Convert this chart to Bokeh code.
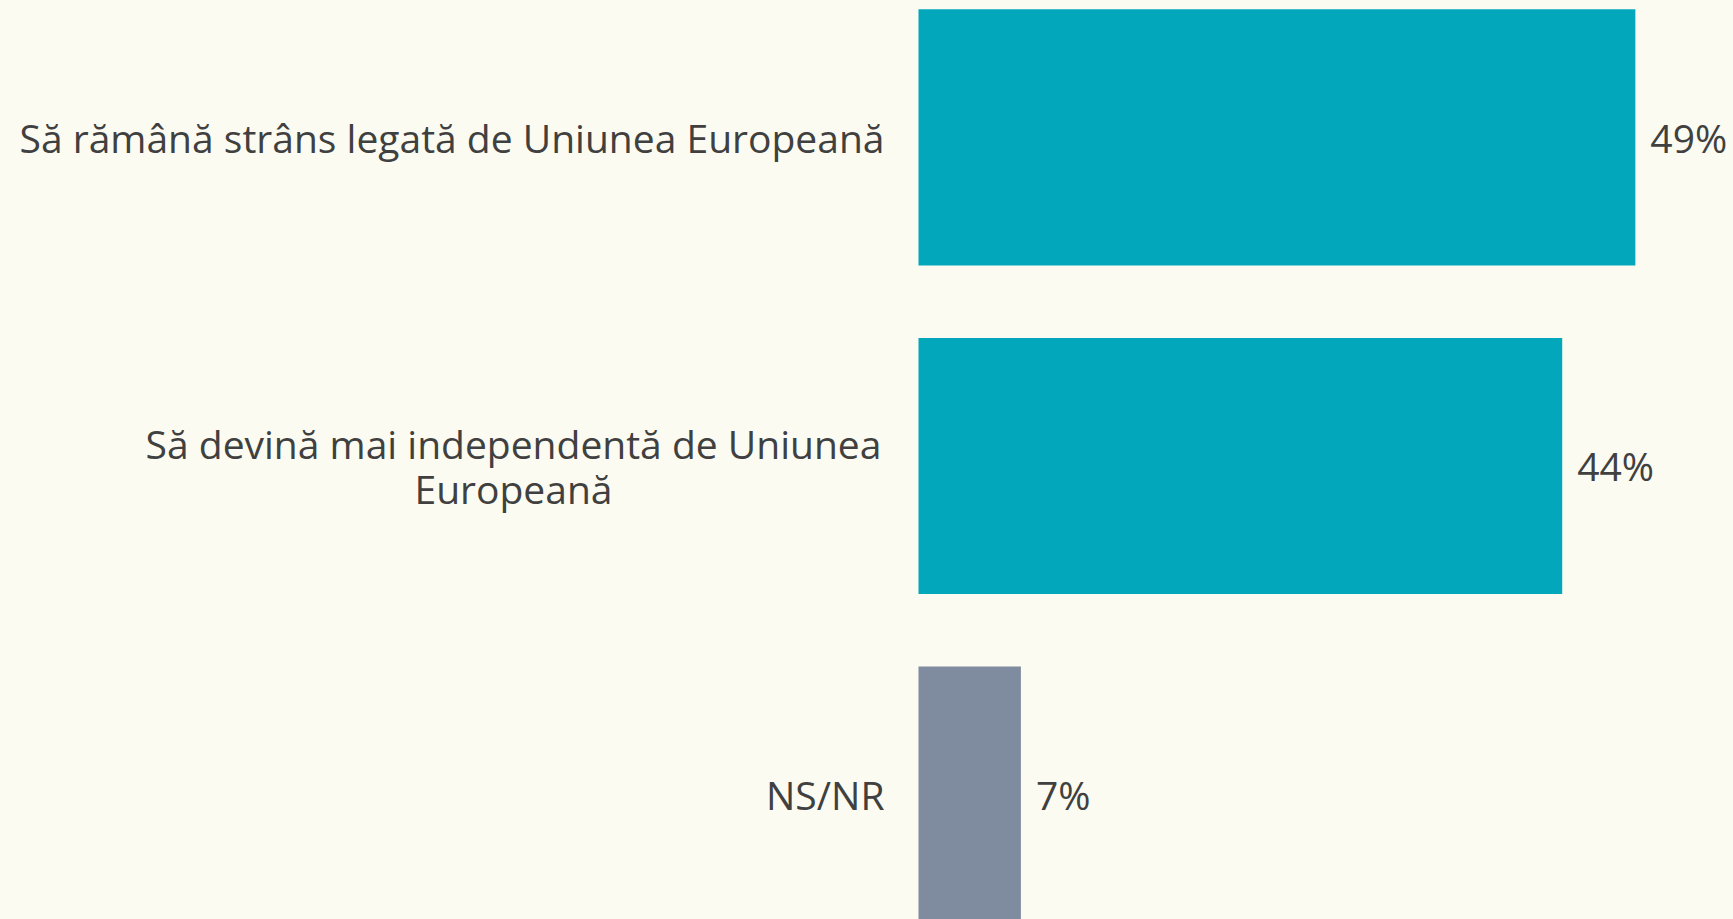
from bokeh.plotting import figure
from bokeh.models import ColumnDataSource, Range1d
from bokeh.core.properties import value
from bokeh.embed import file_html
from bokeh.resources import INLINE

categories = [
    "Să rămână strâns legată de Uniunea Europeană",
    "Să devină mai independentă de Uniunea\nEuropeană",
    "NS/NR",
]
values = [49, 44, 7]
colors = ["#02a7bc", "#02a7bc", "#7f8b9e"]
pct_labels = [f"{v}%" for v in values]

BG = "#fbfbf1"
TXT = "#404040"
FONT = "Open Sans"
FS = "39px"

ypos = list(range(len(categories)))
single = [c if "\n" not in c else "" for c in categories]
multi = [c if "\n" in c else "" for c in categories]

src = ColumnDataSource(dict(y=ypos, v=values, c=colors, pct=pct_labels,
                            single=single, multi=multi))

p = figure(width=1733, height=919, output_backend="svg", toolbar_location=None,
           x_range=Range1d(-62.75, 55.71), y_range=Range1d(2.3805, -0.417),
           x_axis_location=None, y_axis_location=None,
           min_border=0, background_fill_color=BG, border_fill_color=BG,
           outline_line_color=None)
p.grid.visible = False

p.hbar(y="y", left=0, right="v", height=0.78, fill_color="c", line_color=None, source=src)

p.text(x="v", y="y", text="pct", x_offset=15, text_align="left", text_baseline="middle",
       text_font=value(FONT), text_font_size=FS, text_color=TXT, source=src)

p.text(x=0, y="y", text="single", x_offset=-34, text_align="right", text_baseline="middle",
       text_font=value(FONT), text_font_size=FS, text_color=TXT, source=src)

p.text(x=0, y="y", text="multi", x_offset=-405, text_align="center", text_baseline="middle",
       text_font=value(FONT), text_font_size=FS, text_color=TXT, text_line_height=0.84,
       source=src)

html = file_html(p, INLINE)
html = html.replace("<body>", f'<body style="background-color:{BG};">')
open("out.html", "w").write(html)
